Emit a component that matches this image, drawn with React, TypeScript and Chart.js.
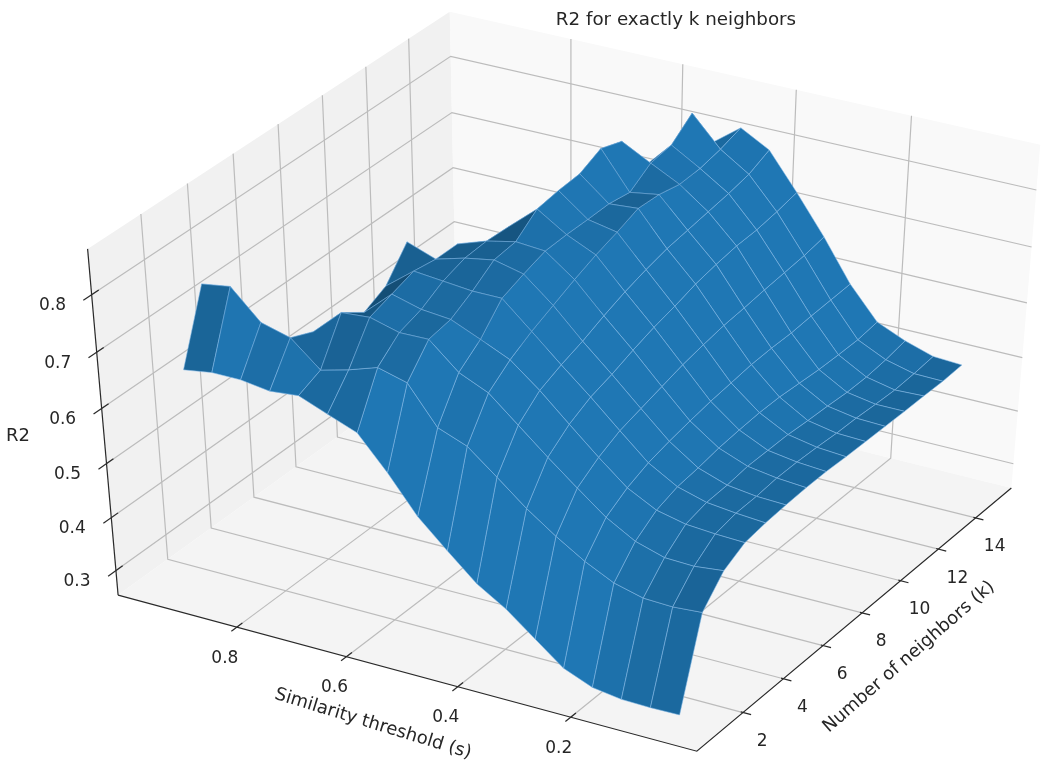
import React, { useEffect, useRef } from "react";
import { Chart, registerables } from "chart.js";

Chart.register(...registerables);

// Similarity threshold (s) of each grid column, and number of neighbors (k) of each grid row.
const similarity = [0.055, 0.106, 0.157, 0.208, 0.259, 0.309, 0.36, 0.411, 0.462, 0.513, 0.564, 0.615, 0.666, 0.716, 0.767, 0.818, 0.869, 0.92];
const neighbors = [1, 2, 3, 4, 5, 6, 7, 8, 9, 10, 11, 12, 13, 14, 15];

// R2 for each k, one value per similarity threshold.
const r2k1 = [0.259, 0.258, 0.259, 0.267, 0.289, 0.33, 0.372, 0.405, 0.452, 0.501, 0.567, 0.625, 0.645, 0.665, 0.66, 0.667, 0.667, 0.659];
const r2k2 = [0.42, 0.416, 0.418, 0.432, 0.458, 0.49, 0.527, 0.57, 0.612, 0.632, 0.698, 0.712, 0.695, 0.682, 0.726, 0.74, 0.79, 0.782];
const r2k3 = [0.466, 0.46, 0.462, 0.478, 0.508, 0.548, 0.59, 0.634, 0.678, 0.701, 0.746, 0.745, 0.759, 0.755, 0.709, 0.629, 0.634, 0.622];
const r2k4 = [0.487, 0.489, 0.493, 0.505, 0.532, 0.574, 0.62, 0.667, 0.708, 0.731, 0.753, 0.758, 0.772, 0.728, 0.641, 0.602, 0.598, 0.585];
const r2k5 = [0.493, 0.497, 0.503, 0.518, 0.548, 0.593, 0.64, 0.684, 0.73, 0.775, 0.775, 0.78, 0.785, 0.747, 0.605, 0.583, 0.57, 0.557];
const r2k6 = [0.496, 0.498, 0.505, 0.523, 0.558, 0.604, 0.652, 0.698, 0.748, 0.79, 0.802, 0.793, 0.779, 0.797, 0.595, 0.564, 0.552, 0.53];
const r2k7 = [0.498, 0.502, 0.51, 0.53, 0.566, 0.615, 0.667, 0.715, 0.766, 0.803, 0.807, 0.796, 0.779, 0.67, 0.577, 0.555, 0.533, 0.511];
const r2k8 = [0.498, 0.502, 0.51, 0.534, 0.573, 0.626, 0.68, 0.73, 0.782, 0.805, 0.837, 0.794, 0.726, 0.643, 0.549, 0.537, 0.515, 0.493];
const r2k9 = [0.496, 0.5, 0.51, 0.537, 0.578, 0.634, 0.69, 0.742, 0.795, 0.805, 0.843, 0.774, 0.691, 0.607, 0.522, 0.518, 0.497, 0.475];
const r2k10 = [0.495, 0.497, 0.507, 0.537, 0.583, 0.641, 0.702, 0.752, 0.81, 0.806, 0.846, 0.748, 0.665, 0.58, 0.495, 0.491, 0.469, 0.456];
const r2k11 = [0.494, 0.496, 0.505, 0.534, 0.585, 0.645, 0.71, 0.758, 0.808, 0.8, 0.864, 0.739, 0.647, 0.554, 0.467, 0.464, 0.442, 0.429];
const r2k12 = [0.493, 0.493, 0.502, 0.531, 0.585, 0.65, 0.716, 0.764, 0.8, 0.825, 0.851, 0.74, 0.621, 0.527, 0.44, 0.436, 0.414, 0.402];
const r2k13 = [0.493, 0.491, 0.502, 0.53, 0.588, 0.654, 0.718, 0.77, 0.802, 0.831, 0.779, 0.705, 0.585, 0.49, 0.403, 0.4, 0.387, 0.374];
const r2k14 = [0.492, 0.493, 0.506, 0.53, 0.59, 0.658, 0.724, 0.778, 0.81, 0.861, 0.718, 0.662, 0.55, 0.463, 0.375, 0.372, 0.359, 0.347];
const r2k15 = [0.494, 0.497, 0.513, 0.535, 0.592, 0.665, 0.732, 0.795, 0.822, 0.784, 0.675, 0.618, 0.514, 0.427, 0.338, 0.345, 0.332, 0.319];
const r2Rows = [r2k1, r2k2, r2k3, r2k4, r2k5, r2k6, r2k7, r2k8, r2k9, r2k10, r2k11, r2k12, r2k13, r2k14, r2k15];

// Tick labels.
const sTicks = [0.8, 0.6, 0.4, 0.2];
const kTicks = [2, 4, 6, 8, 10, 12, 14];
const r2Ticks = [0.3, 0.4, 0.5, 0.6, 0.7, 0.8];
const titleText = "R2 for exactly k neighbors";
const sLabel = "Similarity threshold (s)";
const kLabel = "Number of neighbors (k)";
const r2Label = "R2";

// Axis limits. The s axis is reversed.
const sHi = 1.02, sLo = -0.02;
const kLo = -0.25, kHi = 15.95;
const zLo = 0.253, zHi = 0.878;

// Camera: elevation 40, azimuth -60, distance 10, then a stretch to the page.
const rad = Math.PI / 180;
const ce = Math.cos(40 * rad), se = Math.sin(40 * rad), ca = Math.cos(-60 * rad), sa = Math.sin(-60 * rad);
const W = [ce * ca, ce * sa, se];
const U = [-sa, ca, 0];
const V = [W[1] * U[2] - W[2] * U[1], W[2] * U[0] - W[0] * U[2], W[0] * U[1] - W[1] * U[0]];

type P3 = [number, number, number];
function project([s, k, z]: P3) {
  const dx = (sHi - s) / (sHi - sLo) - 0.5;
  const dy = (k - kLo) / (kHi - kLo) - 0.5;
  const dz = (z - zLo) / (zHi - zLo) - 0.5;
  const a = U[0] * dx + U[1] * dy + U[2] * dz;
  const b = V[0] * dx + V[1] * dy + V[2] * dz;
  const c = W[0] * dx + W[1] * dy + W[2] * dz;
  const f = 10 / (10 - c);
  return { x: 570.8 + 674.8 * a * f, y: 374 - 449.6 * b * f, near: c };
}

function baseDs(pts: P3[], extra: object) {
  return {
    data: pts.map((p) => { const q = project(p); return { x: q.x, y: q.y }; }),
    pointRadius: 0, pointHoverRadius: 0, tension: 0, clip: false, fill: false, ...extra,
  };
}
function line(pts: P3[], color: string, width: number) {
  return baseDs(pts, { borderColor: color, borderWidth: width, borderCapStyle: "butt", backgroundColor: "transparent" });
}
function poly(pts: P3[], color: string, border: string, width: number) {
  return baseDs([...pts, pts[0]], { fill: "shape", backgroundColor: color, borderColor: border, borderWidth: width, borderJoinStyle: "round" });
}

function buildDatasets() {
  const list: any[] = [];
  // Panes
  list.push(poly([[sHi, kLo, zLo], [sHi, kHi, zLo], [sHi, kHi, zHi], [sHi, kLo, zHi]], "#f1f1f1", "transparent", 0));
  list.push(poly([[sHi, kHi, zLo], [sLo, kHi, zLo], [sLo, kHi, zHi], [sHi, kHi, zHi]], "#f9f9f9", "transparent", 0));
  list.push(poly([[sHi, kLo, zLo], [sLo, kLo, zLo], [sLo, kHi, zLo], [sHi, kHi, zLo]], "#f4f4f4", "transparent", 0));
  // Grid
  const grid = "#bcbcbc";
  kTicks.forEach((k) => list.push(line([[sLo, k, zLo], [sHi, k, zLo], [sHi, k, zHi]], grid, 1.2)));
  sTicks.forEach((s) => list.push(line([[s, kLo, zLo], [s, kHi, zLo], [s, kHi, zHi]], grid, 1.2)));
  r2Ticks.forEach((z) => list.push(line([[sHi, kLo, z], [sHi, kHi, z], [sLo, kHi, z]], grid, 1.2)));
  // Surface quads, far ones first
  const quads: { pts: P3[]; near: number; shade: number }[] = [];
  const light = [-1, -1, 0.5].map((v) => v / 1.5);
  for (let r = 0; r < neighbors.length - 1; r++) {
    for (let c = 0; c < similarity.length - 1; c++) {
      const pts: P3[] = [
        [similarity[c], neighbors[r], r2Rows[r][c]],
        [similarity[c + 1], neighbors[r], r2Rows[r][c + 1]],
        [similarity[c + 1], neighbors[r + 1], r2Rows[r + 1][c + 1]],
        [similarity[c], neighbors[r + 1], r2Rows[r + 1][c]],
      ];
      const a = pts[2].map((v, i) => v - pts[0][i]);
      const b = pts[3].map((v, i) => v - pts[1][i]);
      const n = [a[1] * b[2] - a[2] * b[1], a[2] * b[0] - a[0] * b[2], a[0] * b[1] - a[1] * b[0]];
      const len = Math.hypot(n[0], n[1], n[2]) || 1;
      const sign = n[2] < 0 ? -1 : 1;
      const shade = sign * (n[0] * light[0] + n[1] * light[1] + n[2] * light[2]) / len;
      const near = pts.reduce((t, p) => t + project(p).near, 0) / 4;
      quads.push({ pts, near, shade });
    }
  }
  quads.sort((p, q) => p.near - q.near);
  const ranked = quads.map((q) => q.shade).sort((p, q) => p - q);
  const lo = ranked[0];
  const hi = ranked[Math.floor(ranked.length * 0.72)];
  quads.forEach((q) => {
    const t = 0.5 + 0.5 * Math.min(1, (q.shade - lo) / (hi - lo));
    const col = `rgb(${Math.round(31 * t)},${Math.round(119 * t)},${Math.round(180 * t)})`;
    list.push(poly(q.pts, col, "rgba(130,185,230,0.6)", 0.9));
  });
  // Axis lines and ticks
  const axis = "#2a2a2a";
  list.push(line([[sHi, kLo, zLo], [sLo, kLo, zLo], [sLo, kHi, zLo]], axis, 1.2));
  list.push(line([[sHi, kLo, zLo], [sHi, kLo, zHi]], axis, 1.2));
  sTicks.forEach((s) => list.push(line([[s, kLo - 0.25, zLo], [s, kLo + 0.25, zLo]], axis, 1.2)));
  kTicks.forEach((k) => list.push(line([[sLo - 0.014, k, zLo], [sLo + 0.004, k, zLo]], axis, 1.2)));
  r2Ticks.forEach((z) => list.push(line([[sHi, kLo - 0.35, z], [sHi, kLo + 0.3, z]], axis, 1.2)));
  const total = list.length;
  list.forEach((d, i) => { d.order = total - i; });
  return list;
}

const textPlugin = {
  id: "axisText",
  afterDraw(chart: any) {
    const { ctx, scales } = chart;
    const px = (p: { x: number; y: number }) => ({ x: scales.x.getPixelForValue(p.x), y: scales.y.getPixelForValue(p.y) });
    const put = (t: string, x: number, y: number, size: number, rot = 0) => {
      ctx.save();
      ctx.translate(x, y);
      ctx.rotate(rot * rad);
      ctx.font = `${size}px "DejaVu Sans"`;
      ctx.fillStyle = "#262626";
      ctx.textAlign = "center";
      ctx.textBaseline = "middle";
      ctx.fillText(t, 0, 0);
      ctx.restore();
    };
    sTicks.forEach((s) => { const p = px(project([s, kLo, zLo])); put(s.toFixed(1), p.x - 12, p.y + 31, 17); });
    kTicks.forEach((k) => { const p = px(project([sLo, k, zLo])); put(String(k), p.x + 19, p.y + 29, 17); });
    r2Ticks.forEach((z) => { const p = px(project([sHi, kLo, z])); put(z.toFixed(1), p.x - 39, p.y + 11, 17); });
    put(titleText, 676, 20, 18.3);
    put(sLabel, 373, 724, 18, 17);
    put(kLabel, 909, 657, 18, -41);
    put(r2Label, 18, 436, 18);
  },
};

export default function App() {
  const ref = useRef<HTMLCanvasElement | null>(null);
  useEffect(() => {
    if (!ref.current) return;
    const chart = new Chart(ref.current, {
      type: "line",
      data: { datasets: buildDatasets() },
      options: {
        animation: false,
        responsive: false,
        devicePixelRatio: 1,
        layout: { padding: 0 },
        plugins: { legend: { display: false }, tooltip: { enabled: false }, title: { display: false } },
        scales: {
          x: { type: "linear", min: 0, max: 1050, display: false },
          y: { type: "linear", min: 0, max: 770, reverse: true, display: false },
        },
      } as any,
      plugins: [textPlugin],
    } as any);
    return () => chart.destroy();
  }, []);
  return (
    <div style={{ position: "fixed", left: 0, top: 0, width: 1050, height: 770, background: "#fff" }}>
      <canvas ref={ref} width={1050} height={770} style={{ display: "block" }} />
    </div>
  );
}
